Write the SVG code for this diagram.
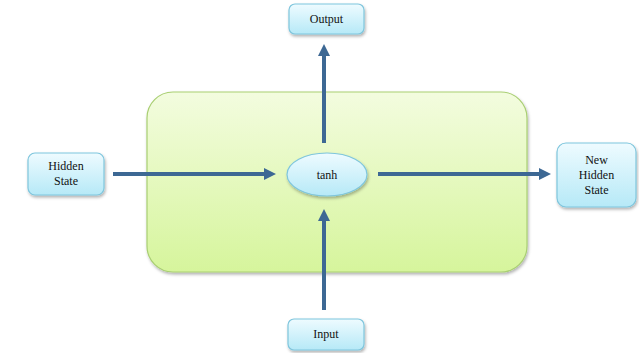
<svg xmlns="http://www.w3.org/2000/svg" width="639" height="353" viewBox="0 0 639 353">
<style>
.box{fill:url(#bg);stroke:#7fc6dd;stroke-width:1.2;filter:url(#sh)}
.lbl{font-family:"Liberation Serif","Times New Roman",serif;font-size:12px;fill:#111;text-anchor:middle}
.conn{stroke:#3d6894;stroke-width:4;fill:none;marker-end:url(#ah)}
</style>
<defs>
<linearGradient id="bg" x1="0" y1="0" x2="0" y2="1">
<stop offset="0" stop-color="#eefbff"/>
<stop offset="1" stop-color="#b6e9f7"/>
</linearGradient>
<linearGradient id="gg" x1="0" y1="0" x2="0" y2="1">
<stop offset="0" stop-color="#f3fcdf"/>
<stop offset="1" stop-color="#d6f59c"/>
</linearGradient>
<filter id="sh" x="-20%" y="-20%" width="140%" height="150%">
<feDropShadow dx="1" dy="2" stdDeviation="1.5" flood-color="#000" flood-opacity="0.3"/>
</filter>
<marker id="ah" markerWidth="4" markerHeight="4" refX="2" refY="2" orient="auto" markerUnits="strokeWidth">
<path d="M0,0.5 L3,2 L0,3.5 Z" fill="#3d6894"/>
</marker>
</defs>
<g id="cell">
<rect x="147" y="92" width="380" height="180" rx="26" fill="url(#gg)" stroke="#a9cf72" stroke-width="1.2" filter="url(#sh)"/>
</g>
<g id="connectors">
<line class="conn" x1="113" y1="174" x2="272" y2="174"/>
<line class="conn" x1="378" y1="174" x2="547" y2="174"/>
<line class="conn" x1="324" y1="143" x2="324" y2="48"/>
<line class="conn" x1="324" y1="310" x2="324" y2="213"/>
</g>
<g id="tanh">
<ellipse class="box" cx="327" cy="174.5" rx="40" ry="21.5"/>
<text class="lbl" x="327" y="179">tanh</text>
</g>
<g id="output">
<rect class="box" x="289" y="4" width="75" height="30" rx="6"/>
<text class="lbl" x="326.5" y="23">Output</text>
</g>
<g id="hidden">
<rect class="box" x="28" y="153" width="76" height="42" rx="7"/>
<text class="lbl" x="66" y="170">Hidden</text>
<text class="lbl" x="66" y="185">State</text>
</g>
<g id="newhidden">
<rect class="box" x="557" y="143" width="79" height="64" rx="9"/>
<text class="lbl" x="596.5" y="164">New</text>
<text class="lbl" x="596.5" y="179">Hidden</text>
<text class="lbl" x="596.5" y="194">State</text>
</g>
<g id="input">
<rect class="box" x="288" y="319" width="76" height="31" rx="6"/>
<text class="lbl" x="326" y="338">Input</text>
</g>
</svg>
